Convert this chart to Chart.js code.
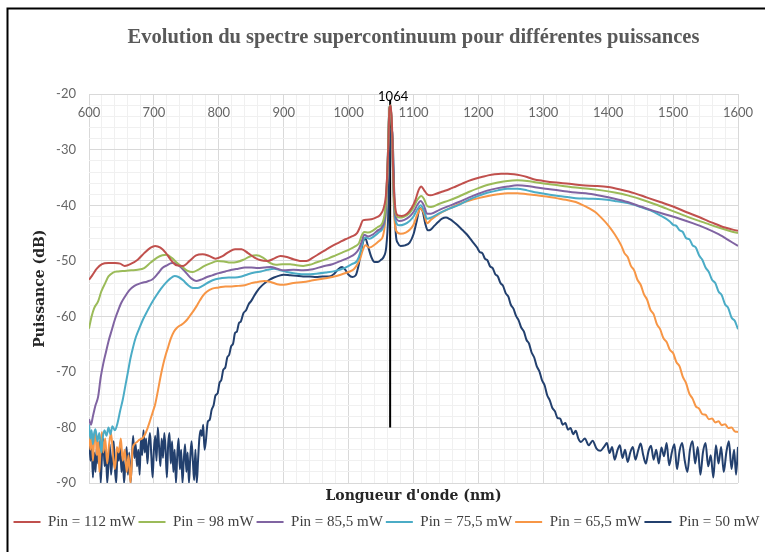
<!DOCTYPE html>
<html lang="fr">
<head>
<meta charset="utf-8">
<title>Spectre supercontinuum</title>
<script src="https://cdn.jsdelivr.net/npm/chart.js@4.4.0/dist/chart.umd.min.js"></script>
<style>
  html, body { margin: 0; padding: 0; background: #fff; }
  canvas { display: block; }
</style>
</head>
<body>
<canvas id="spectre" width="765" height="552"></canvas>
<script>
// Spectres mesurés : [longueur d'onde (nm), puissance (dB)]
const pin112 = [
  [600,-53.4],[605,-52.6],[612,-51.4],[620,-50.6],[630,-50.4],[640,-50.4],[648,-50.5],[655,-50.9],
  [665,-50.5],[675,-49.8],[685,-48.6],[695,-47.6],[702,-47.3],[710,-47.6],[718,-48.5],[726,-49.8],
  [735,-50.8],[745,-50.9],[755,-50.0],[765,-49.0],[775,-48.8],[785,-49.1],[795,-49.6],[805,-49.2],
  [815,-48.4],[825,-47.9],[835,-47.9],[845,-48.6],[855,-49.4],[865,-49.9],[875,-50.0],[885,-49.6],
  [895,-49.1],[905,-49.3],[915,-49.7],[925,-50.0],[935,-50.0],[945,-49.4],[955,-48.7],[965,-48.0],
  [975,-47.3],[985,-46.7],[995,-46.1],[1005,-45.6],[1013,-45.0],[1018,-43.8],[1022,-42.7],[1028,-42.6],
  [1035,-42.5],[1042,-42.2],[1048,-41.8],[1054,-40.5],[1058,-37.5],[1061,-30],[1063,-22.5],[1065,-22.0],
  [1067,-26],[1069,-35],[1072,-40.5],[1076,-41.8],[1082,-41.9],[1090,-41.5],[1097,-40.5],[1103,-39],
  [1108,-37.2],[1112,-36.6],[1116,-37.2],[1121,-38.0],[1126,-38.2],[1135,-37.9],[1145,-37.5],[1155,-37.1],
  [1165,-36.6],[1175,-36.1],[1185,-35.6],[1195,-35.2],[1205,-34.9],[1215,-34.6],[1225,-34.4],[1235,-34.3],
  [1245,-34.3],[1255,-34.4],[1265,-34.6],[1275,-34.9],[1285,-35.3],[1300,-35.6],[1320,-35.9],[1340,-36.1],
  [1360,-36.4],[1380,-36.5],[1400,-36.7],[1420,-37.2],[1440,-37.8],[1460,-38.6],[1480,-39.4],[1500,-40.2],
  [1520,-41.2],[1540,-42.1],[1560,-43.1],[1580,-44.0],[1600,-44.6]
];
const pin98 = [
  [600,-62.2],[604,-60],[608,-58.5],[614,-57.3],[619,-55.5],[625,-54],[630,-52.8],[637,-52.1],
  [645,-51.9],[655,-51.8],[665,-51.7],[675,-51.6],[685,-51.3],[695,-50.3],[705,-49.4],[713,-49.0],
  [720,-48.9],[728,-49.5],[736,-50.4],[744,-51.1],[752,-51.8],[760,-52.0],[768,-51.6],[778,-50.9],
  [788,-50.4],[798,-50.0],[808,-50.1],[818,-50.3],[828,-50.2],[838,-49.8],[848,-49.2],[858,-49.0],
  [868,-49.4],[878,-50.3],[888,-50.7],[898,-50.6],[910,-50.6],[920,-50.8],[930,-50.9],[940,-50.7],
  [950,-50.3],[960,-49.9],[970,-49.5],[980,-49.0],[990,-48.5],[1000,-48.0],[1010,-47.4],[1016,-46.8],
  [1020,-45.5],[1024,-44.8],[1030,-44.9],[1038,-44.5],[1045,-43.9],[1052,-43.2],[1057,-40],[1060,-33],
  [1063,-22.3],[1065,-22.0],[1067,-27],[1069,-36],[1072,-41.2],[1078,-42.2],[1086,-42.0],[1094,-41.4],
  [1100,-40.4],[1106,-39],[1112,-38.3],[1116,-38.8],[1121,-40.1],[1127,-40.3],[1140,-39.7],[1155,-39.1],
  [1170,-38.4],[1185,-37.6],[1200,-36.9],[1215,-36.3],[1230,-35.9],[1245,-35.6],[1260,-35.5],[1275,-35.6],
  [1290,-35.9],[1310,-36.2],[1330,-36.5],[1350,-36.8],[1370,-37.0],[1390,-37.3],[1410,-37.7],[1430,-38.2],
  [1450,-38.9],[1470,-39.7],[1490,-40.6],[1510,-41.5],[1530,-42.4],[1550,-43.2],[1570,-44.0],[1590,-44.7],
  [1600,-45.0]
];
const pin85 = [
  [600,-78.5],[603,-79.5],[606,-78],[610,-76],[614,-74.5],[618,-71],[622,-68.5],[626,-66.5],
  [630,-64.5],[635,-62.5],[640,-60.5],[645,-58.9],[650,-57.5],[655,-56.5],[662,-55.3],[670,-54.5],
  [680,-54.0],[690,-53.7],[698,-53.3],[706,-52.3],[713,-51.3],[720,-50.8],[728,-50.4],[735,-50.6],
  [742,-51.2],[750,-52.2],[758,-53.2],[765,-53.6],[772,-53.4],[780,-53.0],[790,-52.6],[800,-52.2],
  [810,-51.9],[820,-51.6],[830,-51.4],[840,-51.2],[850,-51.2],[860,-51.3],[870,-51.2],[880,-51.1],
  [890,-51.4],[900,-51.7],[915,-51.6],[930,-51.7],[945,-51.5],[960,-51.0],[975,-50.6],[990,-49.9],
  [1000,-49.4],[1010,-48.7],[1016,-47.8],[1020,-46.6],[1024,-45.3],[1030,-45.6],[1038,-45.2],[1045,-44.5],
  [1052,-43.8],[1057,-41],[1060,-33],[1063,-22.5],[1065,-22.2],[1067,-27],[1069,-36],[1072,-41.8],
  [1078,-42.8],[1086,-42.6],[1094,-42.0],[1100,-41.2],[1106,-39.9],[1111,-39.2],[1116,-40.0],[1121,-41.5],
  [1127,-41.5],[1140,-40.8],[1155,-40.1],[1170,-39.4],[1185,-38.6],[1200,-37.9],[1215,-37.3],[1230,-36.9],
  [1245,-36.6],[1260,-36.4],[1275,-36.5],[1290,-36.8],[1310,-37.1],[1330,-37.4],[1350,-37.7],[1370,-37.9],
  [1390,-38.3],[1410,-38.8],[1430,-39.4],[1450,-40.2],[1470,-41.0],[1490,-41.7],[1510,-42.4],[1530,-43.2],
  [1550,-44.1],[1570,-45.2],[1590,-46.6],[1600,-47.3]
];
const pin75 = [
  [600,-79.5],[602,-82],[604,-80.5],[606,-83],[608,-81],[610,-80.3],[613,-82.5],[616,-81],
  [619,-84.5],[621,-82],[624,-80.5],[627,-81.5],[630,-80],[633,-81.2],[636,-79.8],[640,-80.5],
  [644,-79.2],[648,-77],[652,-75],[656,-72.5],[660,-70],[664,-67.5],[668,-65.5],[672,-63.8],
  [677,-62.3],[683,-60.6],[690,-59.0],[697,-57.5],[704,-56.2],[711,-55.0],[718,-54.0],[725,-53.2],
  [732,-52.7],[738,-52.9],[745,-53.5],[752,-54.3],[760,-54.9],[767,-54.9],[775,-54.5],[785,-53.8],
  [795,-53.3],[805,-53.1],[815,-53.0],[825,-53.0],[835,-52.8],[845,-52.4],[855,-52.1],[865,-51.9],
  [875,-51.6],[885,-51.4],[895,-51.7],[905,-52.0],[920,-52.3],[935,-52.4],[950,-52.3],[965,-52.1],
  [980,-51.8],[995,-51.2],[1005,-50.6],[1013,-50.0],[1018,-48.5],[1022,-46.5],[1026,-45.8],[1032,-46.0],
  [1040,-45.5],[1047,-44.8],[1053,-44.0],[1057,-41.5],[1060,-33],[1063,-22.3],[1065,-22.0],[1067,-27],
  [1069,-37],[1072,-42.6],[1078,-43.6],[1086,-43.4],[1094,-42.8],[1100,-42.0],[1106,-40.7],[1111,-40.0],
  [1116,-40.9],[1121,-42.4],[1127,-42.2],[1140,-41.4],[1155,-40.6],[1170,-39.9],[1185,-39.0],[1200,-38.3],
  [1215,-37.7],[1230,-37.3],[1245,-37.0],[1260,-37.0],[1275,-37.3],[1290,-37.7],[1310,-38.1],[1330,-38.4],
  [1350,-38.7],[1370,-38.8],[1390,-38.9],[1410,-39.2],[1430,-39.6],[1450,-40.3],[1465,-40.9],[1480,-41.8],
  [1495,-42.9],[1500,-43.5],[1505,-43.7],[1510,-44.5],[1515,-44.8],[1520,-45.9],[1525,-46.1],[1530,-47.2],
  [1535,-47.6],[1540,-49.0],[1545,-49.8],[1550,-51.2],[1555,-52.0],[1560,-53.4],[1565,-54.0],[1570,-55.5],
  [1575,-56.2],[1580,-57.8],[1585,-58.5],[1590,-60.2],[1595,-60.8],[1600,-62.3]
];
const pin65 = [
  [600,-80.2],[602,-84],[604,-81],[606,-86],[608,-82],[610,-80.5],[612,-85],[614,-82.5],
  [616,-88],[618,-83],[620,-80.8],[622,-84.5],[625,-82],[628,-86.5],[631,-83],[634,-81],
  [637,-85],[640,-87.5],[643,-83.5],[646,-84.5],[649,-82],[652,-86],[655,-84],[658,-88],
  [661,-85],[664,-90],[667,-84],[670,-83],[674,-82.6],[678,-82.2],[682,-82.0],[686,-81.3],
  [690,-80.2],[694,-78.8],[698,-77.3],[702,-75.8],[706,-73.5],[710,-71],[714,-68.8],[718,-67],
  [722,-65.5],[726,-64],[731,-62.7],[736,-62.0],[741,-61.6],[746,-61.2],[751,-60.6],[756,-59.8],
  [761,-59],[766,-58.1],[771,-57.1],[776,-56.2],[782,-55.5],[790,-55.0],[800,-54.8],[810,-54.6],
  [820,-54.6],[830,-54.5],[840,-54.4],[850,-54.0],[860,-53.8],[870,-53.6],[880,-53.8],[890,-54.2],
  [900,-54.3],[915,-54.0],[930,-53.8],[945,-53.5],[960,-53.2],[975,-52.9],[990,-52.4],[1000,-52.0],
  [1008,-51.5],[1014,-50.5],[1018,-49.5],[1022,-48],[1026,-47.2],[1032,-47.6],[1040,-47.1],[1047,-46.4],
  [1053,-45.5],[1057,-42],[1060,-34],[1062,-25],[1064,-23.2],[1066,-24.5],[1068,-32],[1070,-41],
  [1073,-44.5],[1080,-45.1],[1088,-44.9],[1095,-44.3],[1100,-43.5],[1106,-41.6],[1111,-40.6],[1116,-41.4],
  [1121,-43.2],[1127,-42.6],[1140,-41.5],[1155,-40.6],[1170,-39.8],[1185,-39.2],[1200,-38.7],[1215,-38.3],
  [1230,-38.0],[1245,-37.8],[1260,-37.8],[1275,-38.0],[1290,-38.2],[1305,-38.4],[1320,-38.7],[1335,-39.0],
  [1350,-39.4],[1360,-39.9],[1370,-40.5],[1380,-41.2],[1390,-42.3],[1400,-43.6],[1410,-45.2],[1420,-47.2],
  [1425,-48.6],[1430,-49.3],[1435,-50.9],[1440,-51.7],[1445,-53.4],[1450,-54.3],[1455,-56.0],[1460,-57.0],
  [1465,-58.8],[1470,-59.6],[1475,-61.4],[1480,-62.3],[1485,-63.9],[1490,-64.6],[1495,-66.0],[1500,-66.6],
  [1505,-68.2],[1510,-69.0],[1515,-70.9],[1520,-72.0],[1525,-73.9],[1530,-74.8],[1535,-76.2],[1540,-76.6],
  [1545,-77.6],[1550,-77.7],[1555,-78.5],[1560,-78.4],[1565,-79.1],[1570,-78.9],[1575,-79.6],[1580,-79.4],
  [1585,-80.1],[1590,-80.0],[1595,-80.7],[1600,-80.8]
];
const pin50 = [
  [600,-79.5],[602,-86],[604,-83],[606,-89],[608,-84.5],[610,-88],[612,-83.5],[614,-86.5],
  [616,-82.5],[618,-90],[620,-85],[622,-82],[624,-87],[626,-84],[628,-90],[630,-86.5],
  [632,-83],[634,-88.5],[636,-85.5],[638,-82.5],[640,-87.5],[642,-90],[644,-84],[646,-86],
  [648,-82.8],[650,-88],[652,-85],[654,-90],[656,-86.5],[658,-83.5],[660,-88.5],[662,-84.5],
  [664,-90],[666,-86],[668,-81.5],[670,-85.5],[672,-83],[674,-87],[676,-84],[678,-88.5],
  [680,-82],[682,-85],[684,-80.5],[686,-84.5],[688,-82],[690,-86.5],[692,-83],[694,-81],
  [696,-85],[698,-89],[700,-84],[702,-81.5],[704,-86],[706,-80],[708,-83.5],[710,-87],
  [712,-82],[714,-85.5],[716,-81],[718,-84],[720,-89],[722,-83],[724,-81],[726,-86.5],
  [728,-82.5],[730,-88],[732,-84],[734,-90],[736,-85],[738,-82],[740,-87.5],[742,-84],
  [744,-90],[746,-86],[748,-83],[750,-88],[752,-84.5],[754,-90],[756,-85.5],[758,-82.5],
  [760,-86],[762,-89.5],[764,-84],[766,-90],[768,-86],[770,-82],[772,-80.5],[774,-81.5],
  [776,-79.5],[778,-84],[780,-82.5],[783,-79],[786,-78.6],[789,-76.8],[792,-76],[795,-74.2],
  [798,-73.9],[801,-72.0],[804,-71.4],[807,-69.6],[810,-69.2],[813,-67.4],[816,-66.9],[819,-65.4],
  [822,-64.9],[825,-63.0],[828,-62.7],[831,-61.2],[834,-60.9],[838,-59.4],[842,-58.9],[846,-57.8],
  [850,-57.2],[855,-56.2],[860,-55.3],[866,-54.5],[872,-53.9],[878,-53.4],[885,-53.0],[892,-52.7],
  [900,-52.5],[910,-52.6],[920,-52.7],[930,-52.8],[940,-52.8],[950,-52.9],[960,-52.8],[970,-52.8],
  [978,-52.3],[984,-51.5],[990,-51.1],[995,-51.6],[1000,-52.5],[1006,-52.9],[1011,-52.6],[1015,-51],
  [1019,-48.5],[1023,-46.3],[1026,-46.0],[1030,-47.4],[1035,-49.3],[1040,-50.2],[1045,-50.2],[1050,-49.8],
  [1054,-49.3],[1058,-47.5],[1061,-42],[1063,-33],[1065,-26.5],[1067,-26.0],[1069,-32],[1071,-41],
  [1073,-45.5],[1076,-46.8],[1080,-47.3],[1087,-47.2],[1094,-46.7],[1100,-45.2],[1105,-42.8],[1110,-40.5],
  [1114,-41.0],[1118,-43.2],[1122,-44.5],[1126,-44.4],[1132,-43.7],[1138,-43.0],[1144,-42.4],[1150,-42.2],
  [1156,-42.5],[1162,-43.0],[1168,-43.6],[1175,-44.4],[1182,-45.2],[1190,-46.4],[1198,-47.6],[1202,-48.4],
  [1206,-48.6],[1210,-49.6],[1214,-49.9],[1218,-51.0],[1222,-51.3],[1226,-52.4],[1230,-52.8],[1234,-54.0],
  [1238,-54.5],[1242,-55.8],[1246,-56.4],[1250,-57.9],[1254,-58.6],[1258,-59.9],[1262,-60.7],[1266,-62.0],
  [1270,-62.7],[1274,-64.2],[1278,-64.9],[1282,-66.5],[1286,-67.4],[1290,-69.0],[1294,-69.9],[1298,-71.5],
  [1302,-72.4],[1306,-74.2],[1310,-75.1],[1314,-76.5],[1318,-77.1],[1322,-78.3],[1326,-78.4],[1330,-79.5],
  [1334,-79.2],[1338,-80.4],[1342,-80.1],[1346,-81.2],[1350,-80.6],[1354,-82.0],[1358,-82.6],[1364,-82.0],
  [1370,-83.2],[1376,-82.4],[1382,-83.8],[1388,-84.2],[1394,-83.4],[1398,-82.8],[1402,-84.6],[1406,-83.5],
  [1410,-85.8],[1414,-84.2],[1418,-83.2],[1422,-85.5],[1426,-84],[1430,-86.2],[1434,-84.5],[1438,-83.5],
  [1442,-85.8],[1446,-84.2],[1450,-82.9],[1454,-85],[1458,-86.5],[1462,-84.3],[1466,-83.3],[1470,-85.8],
  [1474,-84],[1478,-86.5],[1482,-83.6],[1486,-85.2],[1490,-82.8],[1494,-86.8],[1498,-84.5],[1502,-83],
  [1506,-87.5],[1510,-84.2],[1514,-82.8],[1518,-86],[1522,-88],[1526,-84],[1530,-82.5],[1534,-86.5],
  [1538,-83.5],[1542,-88.5],[1546,-84.5],[1550,-82.8],[1554,-87],[1558,-85],[1562,-89],[1566,-83.2],
  [1570,-86.5],[1574,-83.5],[1578,-88],[1582,-84.5],[1586,-82.5],[1590,-87.5],[1594,-84],[1597,-88.5],
  [1600,-83.5]
];

// raie de pompe à 1064 nm
const pumpNm = 1064;
const pumpLine = [[pumpNm, -80], [pumpNm, -21]];

const seriesData = [pin112, pin98, pin85, pin75, pin65, pin50];
const seriesLabels = ['Pin = 112 mW', 'Pin = 98 mW', 'Pin = 85,5 mW', 'Pin = 75,5 mW', 'Pin = 65,5 mW', 'Pin = 50 mW'];
const seriesColors = ['#C0504D', '#9BBB59', '#8064A2', '#4BACC6', '#F79646', '#23406E'];

const xRange = [600, 1600];
const yRange = [-90, -20];

const serif = 'Liberation Serif';
const axisFont = 'DejaVu Serif';
const tickFont = { family: 'Lato', size: 13 };

const datasets = seriesData.map((d, i) => ({
  label: seriesLabels[i],
  data: d,
  borderColor: seriesColors[i],
  backgroundColor: seriesColors[i],
  borderWidth: 2,
  pointRadius: 0,
  cubicInterpolationMode: 'monotone',
  xAxisID: 'x',
  yAxisID: 'y'
}));
datasets.push({
  label: 'pompe',
  data: pumpLine,
  borderColor: '#000',
  borderWidth: 2,
  pointRadius: 0,
  xAxisID: 'x',
  yAxisID: 'y'
});

// fond blanc, cadre, étiquette de la raie de pompe
const decor = {
  id: 'decor',
  beforeDraw(chart) {
    const c = chart.ctx;
    c.save();
    c.fillStyle = '#fff';
    c.fillRect(0, 0, chart.width, chart.height);
    c.strokeStyle = '#000';
    c.lineWidth = 2;
    c.strokeRect(7.5, 8.5, chart.width + 20, chart.height + 20);
    c.restore();
  },
  afterDatasetsDraw(chart) {
    const c = chart.ctx;
    const x = chart.scales.x.getPixelForValue(pumpNm);
    c.save();
    c.font = '13px Lato';
    c.fillStyle = '#000';
    c.textAlign = 'center';
    c.textBaseline = 'middle';
    c.fillText(String(pumpNm), x + 3, chart.chartArea.top + 3);
    c.restore();
  }
};

const gridColor = step => ctx =>
  (ctx.tick && Math.round(ctx.tick.value) % step === 0) ? '#d9d9d9' : '#f0f0f0';

new Chart(document.getElementById('spectre'), {
  type: 'line',
  data: { datasets },
  plugins: [decor],
  options: {
    responsive: false,
    animation: false,
    devicePixelRatio: 1,
    layout: { padding: { top: 10, left: 8, right: 0, bottom: 12.5 } },
    scales: {
      x: {
        type: 'linear', position: 'top', min: xRange[0], max: xRange[1],
        grid: { color: gridColor(100), drawTicks: false },
        border: { display: false },
        ticks: {
          stepSize: 20, autoSkip: false, maxRotation: 0, mirror: true, padding: 11,
          font: tickFont, color: '#666',
          callback: v => Math.round(v) % 100 === 0 ? String(v) : ''
        },
        afterFit: s => { s.height = 0; }
      },
      xb: {
        type: 'linear', position: 'bottom', min: xRange[0], max: xRange[1],
        grid: { display: false }, border: { display: false },
        ticks: { display: false },
        title: {
          display: true, text: "Longueur d'onde (nm)", color: '#262626',
          font: { family: axisFont, size: 14, weight: 'bold' },
          padding: { top: 0, bottom: 7 }
        },
        afterFit: s => { s.height = 28.5; }
      },
      y: {
        type: 'linear', position: 'left', min: yRange[0], max: yRange[1],
        grid: { color: gridColor(10), drawTicks: false },
        border: { display: false },
        ticks: {
          stepSize: 2, autoSkip: false, padding: 13,
          font: tickFont, color: '#666',
          callback: v => Math.round(v) % 10 === 0 ? String(v) : ''
        },
        title: {
          display: true, text: 'Puissance (dB)', color: '#262626',
          font: { family: axisFont, size: 14, weight: 'bold' },
          padding: { top: 23.6, bottom: 0 }
        },
        afterFit: s => { s.width = 81; }
      },
      yr: {
        type: 'linear', position: 'right',
        grid: { display: false }, border: { display: false },
        ticks: { display: false },
        afterFit: s => { s.width = 27; }
      }
    },
    plugins: {
      title: {
        display: true,
        fullSize: false,
        text: 'Evolution du spectre supercontinuum pour différentes puissances',
        color: '#595959',
        font: { family: serif, size: 20.5, weight: 'bold' },
        padding: { top: 15.4, bottom: 44.3 }
      },
      legend: {
        position: 'bottom',
        labels: {
          usePointStyle: true, pointStyle: 'line', pointStyleWidth: 27, padding: 3,
          font: { family: serif, size: 15 }, color: '#404040',
          filter: item => item.datasetIndex < seriesData.length
        }
      },
      tooltip: { enabled: false }
    }
  }
});
</script>
</body>
</html>
